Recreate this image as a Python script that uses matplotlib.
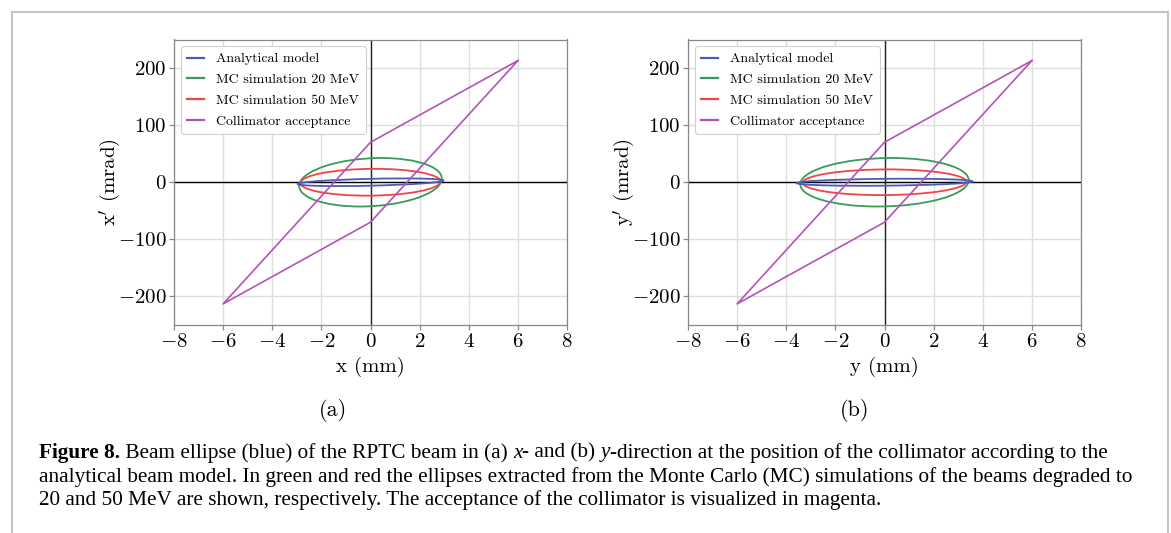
import numpy as np
import matplotlib
matplotlib.use("Agg")
import matplotlib.pyplot as plt
from matplotlib.patches import Ellipse
from matplotlib.transforms import Affine2D
from matplotlib.lines import Line2D

plt.rcParams['font.family'] = 'serif'
plt.rcParams['font.serif'] = ['cmr10']
plt.rcParams['mathtext.fontset'] = 'cm'
plt.rcParams['axes.formatter.use_mathtext'] = True

# collimator acceptance polygon (same in both planes), mm / mrad
accept_pos = [6, 0, -6, 0, 6]
accept_ang = [213, 70, -213, -70, 213]

# ellipses: rows = analytical model, MC 20 MeV, MC 50 MeV
# extreme point along position axis (pos, ang) and top point (pos, ang)
x_ext_pos = [2.97, 2.88, 2.85]
x_ext_ang = [3.0, 1.0, 0.5]
x_top_pos = [0.0, 0.37, 0.10]
x_top_ang = [6.0, 42.5, 23.5]

y_ext_pos = [3.58, 3.42, 3.33]
y_ext_ang = [1.5, 0.5, 0.3]
y_top_pos = [0.0, 0.25, 0.10]
y_top_ang = [6.0, 42.5, 22.5]

series_labels = ['Analytical model', 'MC simulation 20 MeV',
                 'MC simulation 50 MeV', 'Collimator acceptance']
series_colors = ['#4a5cb4', '#3a9a58', '#f04545', '#b452b8']

panels = [
    ('x (mm)', "x$'$ (mrad)", x_ext_pos, x_ext_ang, x_top_pos, x_top_ang, '(a)'),
    ('y (mm)', "y$'$ (mrad)", y_ext_pos, y_ext_ang, y_top_pos, y_top_ang, '(b)'),
]

W, H = 1171, 533
fig = plt.figure(figsize=(W / 100, H / 100), dpi=100)

ax_left = [174 / W, 688 / W]
ax_w = 393 / W
ax_b = 1 - 325 / H
ax_h = (325 - 39.5) / H
sub_x = [333 / W, 855 / W]

for i, (xl, yl, ep, ea, tp, ta, tag) in enumerate(panels):
    ax = fig.add_axes([ax_left[i], ax_b, ax_w, ax_h])
    ax.set_xlim(-8, 8)
    ax.set_ylim(-250, 250)
    ax.set_xticks(np.arange(-8, 9, 2))
    ax.set_yticks([-200, -100, 0, 100, 200])
    ax.grid(True, color='#dedede', lw=1.0, zorder=0)
    ax.set_axisbelow(True)
    for s in ax.spines.values():
        s.set_color('#888888')
        s.set_linewidth(0.9)
    ax.tick_params(colors='#888888', labelcolor='black', labelsize=15,
                   length=3.5, width=0.9, pad=2)
    ax.axhline(0, color='black', lw=1.0, zorder=1)
    ax.axvline(0, color='#222222', lw=1.0, zorder=1)

    for k in [1, 2, 0]:
        m = Affine2D.from_values(ep[k], ea[k], tp[k], ta[k], 0, 0)
        e = Ellipse((0, 0), 2, 2, fill=False, edgecolor=series_colors[k],
                    lw=1.3, transform=m + ax.transData, zorder=3)
        ax.add_patch(e)
    ax.plot(accept_pos, accept_ang, color=series_colors[3], lw=1.2, zorder=4)

    handles = [Line2D([], [], color=c, lw=1.6) for c in series_colors]
    leg = ax.legend(handles, series_labels, loc='upper left', fontsize=10,
                    handlelength=1.2, handletextpad=0.9, borderpad=0.45,
                    labelspacing=0.58, borderaxespad=0.5, framealpha=1.0,
                    edgecolor='#d0d0d0', fancybox=True)
    leg.get_frame().set_linewidth(0.8)

    ax.set_xlabel(xl, fontsize=15, labelpad=4.5)
    ax.set_ylabel(yl, fontsize=15, labelpad=-4)
    fig.text(sub_x[i], 1 - 410 / H, tag, fontsize=16, ha='center', va='center')

# gray frame around the figure block
frame_c = '#c4c4c4'
fig.add_artist(Line2D([12 / W, 12 / W], [0, 1 - 12 / H], color=frame_c, lw=1.5,
                      transform=fig.transFigure))
fig.add_artist(Line2D([12 / W, 1168 / W], [1 - 12 / H, 1 - 12 / H], color=frame_c,
                      lw=1.5, transform=fig.transFigure))
fig.add_artist(Line2D([1168 / W, 1168 / W], [0, 1 - 12 / H], color=frame_c, lw=1.5,
                      transform=fig.transFigure))

# caption
cap_font = 'Liberation Serif'
cap_size = 15.3
caption = [
    [("Figure 8.", 'bold', 'normal'),
     (" Beam ellipse (blue) of the RPTC beam in (a) ", 'normal', 'normal'),
     ("x", 'normal', 'italic'),
     ("- and (b) ", 'normal', 'normal'),
     ("y", 'normal', 'italic'),
     ("-direction at the position of the collimator according to the", 'normal', 'normal')],
    [("analytical beam model. In green and red the ellipses extracted from the Monte Carlo "
      "(MC) simulations of the beams degraded to", 'normal', 'normal')],
    [("20 and 50 MeV are shown, respectively. The acceptance of the collimator is "
      "visualized in magenta.", 'normal', 'normal')],
]
cap_y = [453, 477, 500]

renderer = fig.canvas.get_renderer()
for line, yy in zip(caption, cap_y):
    xpix = 39
    for txt, wt, st in line:
        t = fig.text(xpix / W, 1 - yy / H, txt, family=cap_font, fontsize=cap_size,
                     weight=wt, style=st, ha='left', va='center')
        bb = t.get_window_extent(renderer=renderer)
        xpix = bb.x1

fig.savefig('out.png', dpi=100)
